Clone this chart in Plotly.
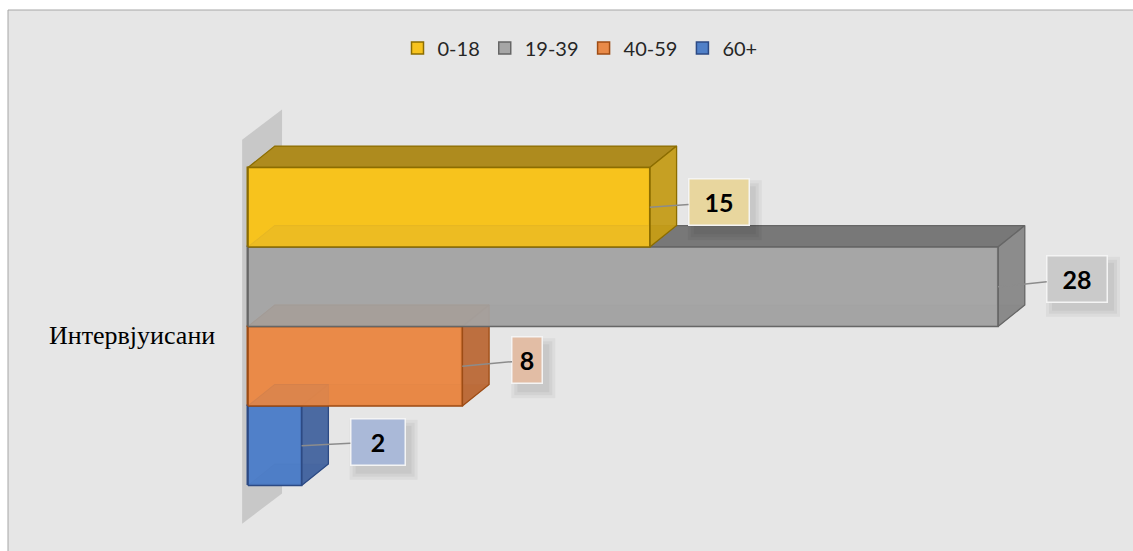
import plotly.graph_objects as go

# ---------------- data ----------------
category = "Интервјуисани"
series_names = ["0-18", "19-39", "40-59", "60+"]
values = [15, 28, 8, 2]

# ---------------- styles ----------------
front_colors = ["rgba(247,195,30,0.88)", "rgba(166,166,166,0.88)", "rgba(233,138,72,0.88)", "rgba(80,128,200,0.88)"]
legend_colors = ["#f7c31e", "#a6a6a6", "#e98a48", "#5080c8"]
top_colors = ["#ae8b1e", "#787878", "#b5642c", "#3d62a0"]
right_colors = ["rgba(196,156,24,0.95)", "rgba(135,135,135,0.95)", "rgba(186,104,54,0.95)", "rgba(66,99,158,0.95)"]
bottom_colors = ["rgba(214,160,0,0.45)", "rgba(120,120,120,0.35)", "rgba(200,105,40,0.45)", "rgba(50,90,170,0.4)"]
edge_colors = ["#8c6d00", "#666666", "#9e4c14", "#2c4a84"]
label_fills = ["#e8d69e", "#cacaca", "#e2bda5", "#aab9d8"]
label_widths = [44, 44, 14, 38]
label_offsets = [(69, -5), (79, -8), (65, -6), (76, -4)]
LABEL_H, LABEL_PAD, LABEL_BW = 30, 7.5, 1.5

W, H = 1133, 551
X_RANGE = [-9.26, 33.04]
Y_RANGE = [-2.824, 4.107]
BAR_W = 1.0
DX, DY = 1.0, 0.27

fig = go.Figure()
n = len(values)
pos = [(n - 1) / 2 - i for i in range(n)]

# legend / base bars
for i in range(n):
    fig.add_trace(go.Bar(
        x=[values[i]], y=[pos[i]], base=0, width=[BAR_W], orientation="h",
        name=series_names[i],
        marker=dict(color=legend_colors[i], line=dict(color=edge_colors[i], width=1.5)),
        hoverinfo="skip",
    ))


def poly(xs, ys, fill, line, lw=1.3):
    fig.add_trace(go.Scatter(
        x=xs + [xs[0]], y=ys + [ys[0]], mode="lines", fill="toself",
        fillcolor=fill, line=dict(color=line, width=lw),
        showlegend=False, hoverinfo="skip",
    ))


for i in reversed(range(n)):
    v = values[i]
    yb, yt = pos[i] - BAR_W / 2, pos[i] + BAR_W / 2
    poly([0, v, v + DX, DX], [yb, yb, yb + DY, yb + DY], bottom_colors[i], "rgba(0,0,0,0.12)", 1)
    poly([0, v, v + DX, DX], [yt, yt, yt + DY, yt + DY], top_colors[i], edge_colors[i])
    poly([v, v + DX, v + DX, v], [yb, yb + DY, yt + DY, yt], right_colors[i], edge_colors[i])
    poly([0, v, v, 0], [yb, yb, yt, yt], front_colors[i], edge_colors[i], 1.6)

# frame / background
shapes = [dict(type="rect", xref="paper", yref="paper",
               x0=8 / W, x1=1.01, y0=-0.01, y1=1 - 10 / H,
               fillcolor="#e6e6e6", line=dict(color="#a6a6a6", width=1), layer="below")]
# side wall
WALL_X0, WALL_DEPTH, WALL_DY = -0.22, 1.49, 0.38
wall_top = n / 2 * BAR_W + 0.35
wall_bot = -n / 2 * BAR_W - 0.48
shapes.append(dict(
    type="path", xref="x", yref="y",
    path=f"M {WALL_X0},{wall_top} L {WALL_X0 + WALL_DEPTH},{wall_top + WALL_DY} "
         f"L {WALL_X0 + WALL_DEPTH},{wall_bot + WALL_DY} L {WALL_X0},{wall_bot} Z",
    fillcolor="#c8c8c8", line=dict(width=0), layer="below"))

# soft shadows behind the value labels (pixel-sized shapes anchored at the data point)
for i in range(n):
    ax, ay = label_offsets[i]
    bw = label_widths[i] + 2 * (LABEL_PAD + LABEL_BW)
    bh = LABEL_H + 2 * (LABEL_PAD + LABEL_BW)
    cx, cy = ax + 6, -(ay + 8)
    for e in (6, 3, 0):
        shapes.append(dict(
            type="rect", xref="x", yref="y", xsizemode="pixel", ysizemode="pixel",
            xanchor=values[i], yanchor=pos[i],
            x0=cx - bw / 2 - e, x1=cx + bw / 2 + e, y0=cy - bh / 2 - e, y1=cy + bh / 2 + e,
            fillcolor="rgba(0,0,0,0.045)", line=dict(width=0), layer="above"))

annotations = [dict(x=0, y=0, xref="x", yref="y", text=category, showarrow=False,
                    xanchor="right", yanchor="middle", xshift=-31, yshift=-9,
                    font=dict(family="Liberation Serif", size=26, color="#000000"))]
for i in range(n):
    ax, ay = label_offsets[i]
    annotations.append(dict(
        x=values[i], y=pos[i], xref="x", yref="y",
        text=f"<b>{values[i]}</b>", showarrow=True, arrowhead=0,
        arrowcolor="#8c8c8c", arrowwidth=1.5, ax=ax, ay=ay, standoff=0,
        font=dict(family="Lato", size=25, color="#000000"),
        bgcolor=label_fills[i], bordercolor="#f4f4f4", borderwidth=LABEL_BW, borderpad=LABEL_PAD,
        width=label_widths[i], height=LABEL_H,
    ))

fig.update_layout(
    width=W, height=H, margin=dict(l=0, r=0, t=0, b=0),
    paper_bgcolor="#ffffff", plot_bgcolor="rgba(0,0,0,0)",
    barmode="overlay", bargap=0,
    xaxis=dict(range=X_RANGE, visible=False, fixedrange=True),
    yaxis=dict(range=Y_RANGE, visible=False, fixedrange=True),
    shapes=shapes, annotations=annotations,
    legend=dict(orientation="h", x=580 / W, xanchor="center", y=1 - 48 / H, yanchor="middle",
                font=dict(family="Lato", size=20, color="#262626"),
                bgcolor="rgba(0,0,0,0)", itemwidth=30, traceorder="normal"),
    showlegend=True,
)

fig.write_html("out.html", config={"displayModeBar": False},
               post_script="document.body.style.margin='0';document.body.style.overflow='hidden';")
